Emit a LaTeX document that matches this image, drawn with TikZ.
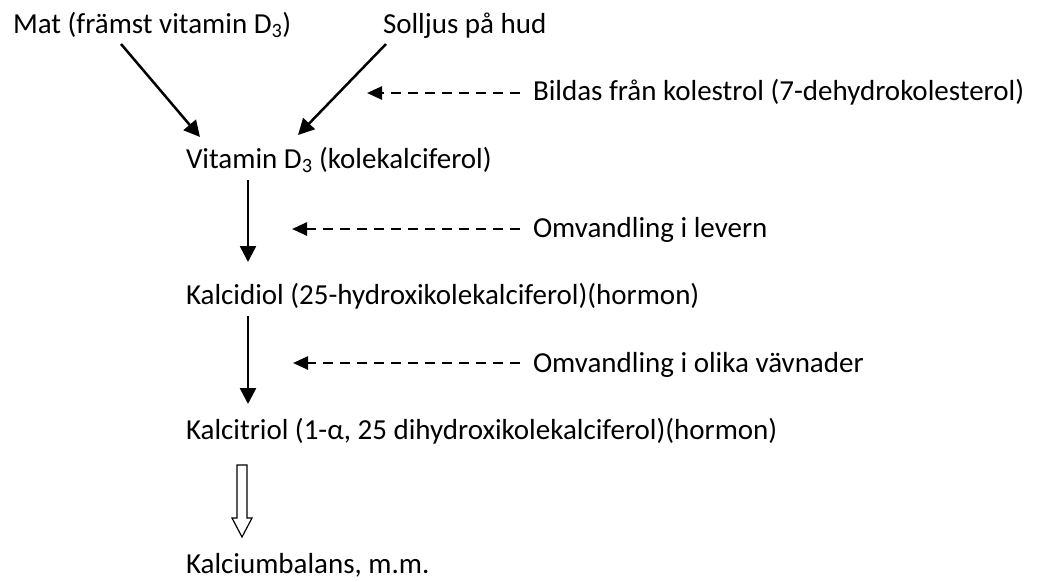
\documentclass[tikz,border=0pt]{standalone}
\usepackage{fontspec}
\setmainfont{Carlito}
\usetikzlibrary{arrows.meta}

\tikzset{
	tekst/.style={anchor=base west, inner sep=0pt, outer sep=0pt},
	pil/.style={line width=2.5pt, -{Triangle[length=16pt, width=16pt]}},
	streckpil/.style={line width=2.5pt, dash pattern=on 10pt off 7pt, -{Triangle[length=15pt, width=13pt]}}
}

\begin{document}
\begin{tikzpicture}[x=1pt, y=-1pt]

\def\lx{186}
\def\rx{533}

\fontsize{29}{35}\selectfont
\path [use as bounding box] (0,0) rectangle (1043,581);

% TEXTS
\path (13,33) node[tekst] (mat) {Mat (främst vitamin D\textsubscript{3})};
\path (383,33) node[tekst] (sol) {Solljus på hud};
\path (\lx,168) node[tekst] (vit) {Vitamin D\textsubscript{3} (kolekalciferol)};
\path (\lx,304) node[tekst] (kalcidiol) {Kalcidiol (25-hydroxikolekalciferol)(hormon)};
\path (\lx,439) node[tekst] (kalcitriol) {Kalcitriol (1-α, 25 dihydroxikolekalciferol)(hormon)};
\path (\lx,573) node[tekst] (balans) {Kalciumbalans, m.m.};
\path (\rx,100) node[tekst] (bildas) {Bildas från kolestrol (7-dehydrokolesterol)};
\path (\rx,237) node[tekst] (levern) {Omvandling i levern};
\path (\rx,372) node[tekst] (vavnad) {Omvandling i olika vävnader};

% ARROWS
\draw [pil] ([shift={(108,11)}]mat.base west) -- ([shift={(14,-31)}]vit.base west);
\draw [pil] ([shift={(3,11)}]sol.base west) -- ([shift={(112,-33)}]vit.base west);
\draw [pil] ([shift={(62,12)}]vit.base west) -- ([shift={(62,-42)}]kalcidiol.base west);
\draw [pil] ([shift={(62,12)}]kalcidiol.base west) -- ([shift={(62,-35)}]kalcitriol.base west);

% DASHED
\coordinate (bildasmal) at ([shift={(-166,-7)}]bildas.base west);
\coordinate (levernmal) at ([shift={(-241,-8)}]levern.base west);
\coordinate (vavnadmal) at ([shift={(-240,-9)}]vavnad.base west);
\draw [streckpil] ([shift={(-13,-7)}]bildas.base west) -- (bildasmal);
\draw [streckpil] ([shift={(-13,-8)}]levern.base west) -- (levernmal);
\draw [streckpil] ([shift={(-13,-9)}]vavnad.base west) -- (vavnadmal);

% HOLLOW ARROW
\draw [line width=1.2pt, line join=miter] ([shift={(56,26)}]kalcitriol.base west)
	+(-5,0) -- +(-5,53) -- +(-10,53) -- +(0,72) -- +(10,53) -- +(5,53) -- +(5,0) -- cycle;

\end{tikzpicture}
\end{document}
